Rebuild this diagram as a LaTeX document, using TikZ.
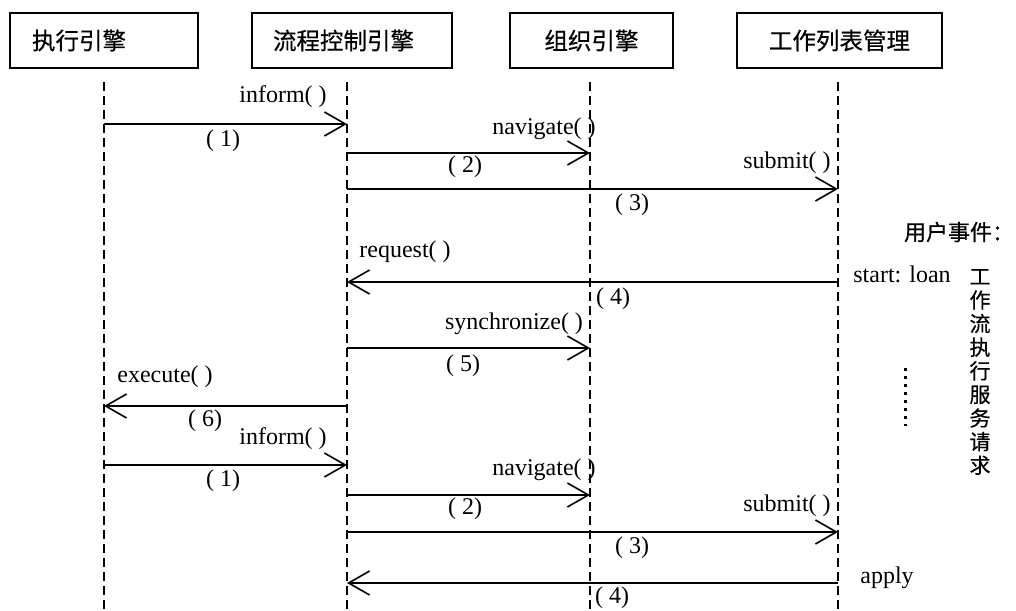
\documentclass[tikz,border=0pt]{standalone}
\usepackage{fontspec}
\setmainfont{Liberation Serif}
\newfontfamily\cjk[FakeBold=0.5]{Noto Sans CJK SC}
\usetikzlibrary{arrows.meta}
\begin{document}
\begin{tikzpicture}[x=1pt,y=-1pt,
  box/.style={draw,line width=1.4pt,minimum height=55pt,inner sep=0pt,font=\cjk\fontsize{23.5}{28}\selectfont},
  life/.style={line width=1.4pt,dash pattern=on 9pt off 5pt},
  msg/.style={line width=1.6pt,-{Straight Barb[length=21pt,width=24pt,line width=1.6pt]}},
  lbl/.style={font=\fontsize{24}{28}\selectfont,inner sep=0pt},
  cj/.style={font=\cjk\fontsize{22}{26}\selectfont,inner sep=0pt}]
\useasboundingbox (0,0) rectangle (1016,610);

% header boxes
\node[box,text width=144pt,align=left,inner xsep=22pt] (b1) at (104,40.5) {执行引擎};
\node[box,text width=158pt,align=left,inner xsep=21pt] (b2) at (352,40.5) {流程控制引擎};
\node[box,minimum width=163pt] (b3) at (591.5,40.5) {组织引擎};
\node[box,minimum width=205pt] (b4) at (839.5,40.5) {工作列表管理};

% lifelines
\coordinate (t1) at (104,82);  \coordinate (e1) at (104,610);
\coordinate (t2) at (347,82);  \coordinate (e2) at (347,610);
\coordinate (t3) at (590,82);  \coordinate (e3) at (590,610);
\coordinate (t4) at (838,82);  \coordinate (e4) at (838,610);
\draw[life] (t1) -- (e1);
\draw[life] (t2) -- (e2);
\draw[life] (t3) -- (e3);
\draw[life] (t4) -- (e4);

% message end points
\coordinate (m1a) at (104,124); \coordinate (m1b) at (347,124);
\coordinate (m2a) at (347,153); \coordinate (m2b) at (590,153);
\coordinate (m3a) at (347,189); \coordinate (m3b) at (838,189);
\coordinate (m4a) at (838,282); \coordinate (m4b) at (347,282);
\coordinate (m5a) at (347,348); \coordinate (m5b) at (590,348);
\coordinate (m6a) at (347,406); \coordinate (m6b) at (104,406);
\coordinate (m7a) at (104,465); \coordinate (m7b) at (347,465);
\coordinate (m8a) at (347,495); \coordinate (m8b) at (590,495);
\coordinate (m9a) at (347,532); \coordinate (m9b) at (838,532);
\coordinate (m10a) at (838,583); \coordinate (m10b) at (347,583);

\draw[msg] (m1a) -- (m1b);
\draw[msg] (m2a) -- (m2b);
\draw[msg] (m3a) -- (m3b);
\draw[msg] (m4a) -- (m4b);
\draw[msg] (m5a) -- (m5b);
\draw[msg] (m6a) -- (m6b);
\draw[msg] (m7a) -- (m7b);
\draw[msg] (m8a) -- (m8b);
\draw[msg] (m9a) -- (m9b);
\draw[msg] (m10a) -- (m10b);

% message labels
\node[lbl] (l1t) at (283,97) {inform( )};
\node[lbl] (l1n) at (223,141) {( 1)};
\node[lbl] (l2t) at (544,129) {navigate( )};
\node[lbl] (l2n) at (465,167) {( 2)};
\node[lbl] (l3t) at (787,163) {submit( )};
\node[lbl] (l3n) at (632,205) {( 3)};
\node[lbl] (l4t) at (405,252) {request( )};
\node[lbl] (l4n) at (613,299) {( 4)};
\node[lbl] (l5t) at (514,324) {synchronize( )};
\node[lbl] (l5n) at (463,366) {( 5)};
\node[lbl] (l6t) at (165,377) {execute( )};
\node[lbl] (l6n) at (205,421) {( 6)};
\node[lbl] (l7t) at (283,439) {inform( )};
\node[lbl] (l7n) at (223,481) {( 1)};
\node[lbl] (l8t) at (544,470) {navigate( )};
\node[lbl] (l8n) at (465,509) {( 2)};
\node[lbl] (l9t) at (787,506) {submit( )};
\node[lbl] (l9n) at (632,548) {( 3)};
\node[lbl] (l10t) at (887,578) {apply};
\node[lbl] (l10n) at (612,598) {( 4)};

% right side
\node[cj] (ue) at (959,232) {用户事件：};
\node[lbl] (sl) at (902,274) {start: loan};
\node[font=\cjk\fontsize{21}{23.6}\selectfont,inner sep=0pt,align=center] (vt) at (980,372)
  {工\\作\\流\\执\\行\\服\\务\\请\\求};
\draw[line width=3pt,dash pattern=on 3pt off 5pt] (905,368) -- (905,426);
\end{tikzpicture}
\end{document}
